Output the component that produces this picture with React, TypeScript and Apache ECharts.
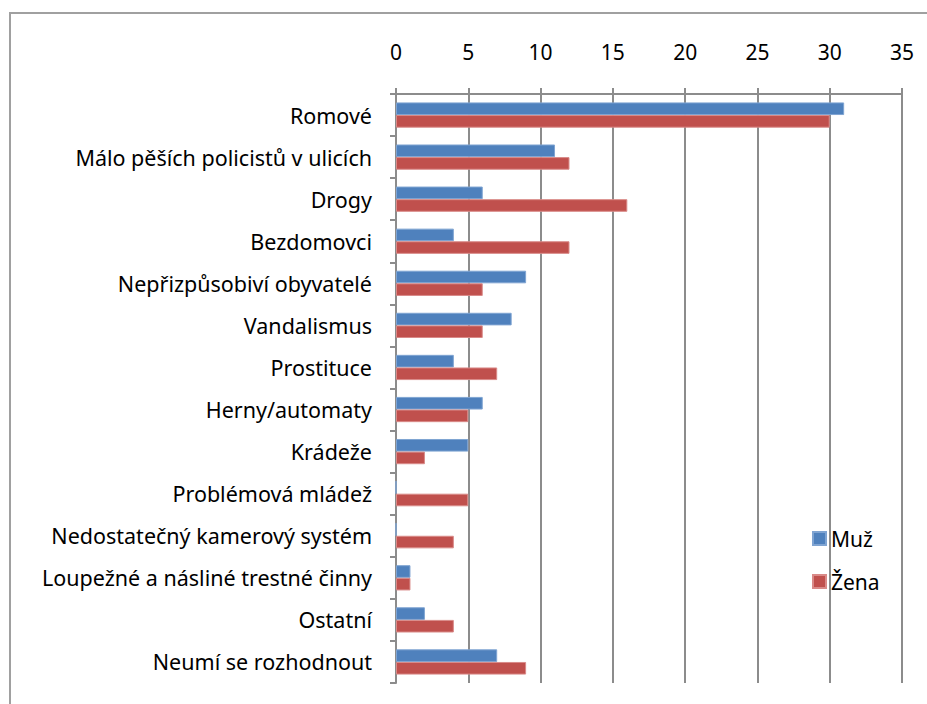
import React, { useEffect, useRef } from "react";
import * as echarts from "echarts";

const categories = [
  "Romové",
  "Málo pěších policistů v ulicích",
  "Drogy",
  "Bezdomovci",
  "Nepřizpůsobiví obyvatelé",
  "Vandalismus",
  "Prostituce",
  "Herny/automaty",
  "Krádeže",
  "Problémová mládež",
  "Nedostatečný kamerový systém",
  "Loupežné a násliné trestné činny",
  "Ostatní",
  "Neumí se rozhodnout",
];
const muz = [31, 11, 6, 4, 9, 8, 4, 6, 5, 0, 0, 1, 2, 7];
const zena = [30, 12, 16, 12, 6, 6, 7, 5, 2, 5, 4, 1, 4, 9];
const seriesNames = ["Muž", "Žena"];

const FONT = "Noto Sans";

export default function App() {
  const ref = useRef<HTMLDivElement>(null);
  useEffect(() => {
    if (!ref.current) return;
    const chart = echarts.init(ref.current, null, { renderer: "svg" });
    chart.setOption({
      animation: false,
      backgroundColor: "#ffffff",
      textStyle: { fontFamily: FONT },
      graphic: [
        {
          type: "rect",
          shape: { x: 10, y: 13, width: 960, height: 740 },
          style: { fill: "none", stroke: "#a0a0a0", lineWidth: 2 },
          silent: true,
        },
      ],
      legend: {
        orient: "vertical",
        left: 812,
        top: 528,
        padding: 0,
        itemWidth: 13,
        itemHeight: 13,
        itemGap: 22,
        icon: "rect",
        textStyle: { fontSize: 21, color: "#000", fontFamily: FONT },
        data: seriesNames,
      },
      grid: { left: 396, top: 94, width: 506, height: 589 },
      xAxis: {
        type: "value",
        position: "top",
        min: 0,
        max: 35,
        interval: 5,
        axisLine: { show: true, lineStyle: { color: "#8c8c8c", width: 2 } },
        axisTick: { show: true, length: 6, lineStyle: { color: "#8c8c8c", width: 2 } },
        splitLine: { show: true, lineStyle: { color: "#8c8c8c", width: 2 } },
        axisLabel: { fontSize: 21, color: "#000", margin: 32, fontFamily: FONT },
      },
      yAxis: {
        type: "category",
        inverse: true,
        data: categories,
        axisLine: { show: true, lineStyle: { color: "#8c8c8c", width: 2 } },
        axisTick: { show: true, length: 6, lineStyle: { color: "#8c8c8c", width: 2 } },
        axisLabel: { fontSize: 21.5, color: "#000", margin: 24, fontFamily: FONT },
      },
      series: [
        {
          name: seriesNames[0],
          type: "bar",
          data: muz,
          barGap: "0%",
          barCategoryGap: "40%",
          itemStyle: { color: "#4F81BD", borderColor: "#7fa4d2", borderWidth: 1 },
        },
        {
          name: seriesNames[1],
          type: "bar",
          data: zena,
          barGap: "0%",
          barCategoryGap: "40%",
          itemStyle: { color: "#C0504D", borderColor: "#d98a88", borderWidth: 1 },
        },
      ],
    });
    return () => chart.dispose();
  }, []);
  return (
    <div
      ref={ref}
      style={{ position: "fixed", left: 0, top: 0, width: 927, height: 704, background: "#fff" }}
    />
  );
}
